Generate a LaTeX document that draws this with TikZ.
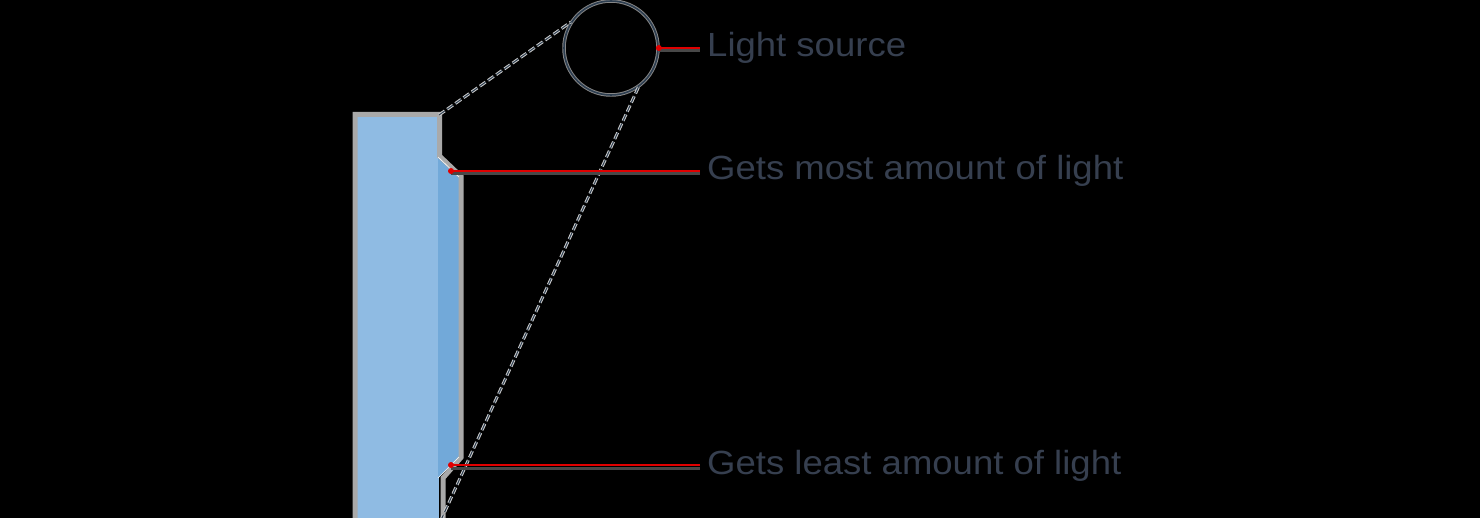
\documentclass[tikz,border=0pt]{standalone}
\usepackage{fontspec}
\newfontfamily\lblfont{Liberation Sans}[FakeStretch=1.09]
\definecolor{bgc}{HTML}{000000}
\definecolor{lblue}{HTML}{8FBBE3}
\definecolor{dblue}{HTML}{72A9D9}
\definecolor{framec}{HTML}{A9A9A9}
\definecolor{navy}{HTML}{2D3E50}
\definecolor{txtc}{HTML}{363F4F}
\definecolor{redc}{HTML}{E00000}
\definecolor{shadc}{HTML}{484848}
\tikzset{
  lbl/.style={inner sep=0pt, anchor=base west, text=txtc, font=\lblfont\fontsize{33.5}{40}\selectfont},
  redline/.style={draw=redc, line width=2pt},
  shadline/.style={draw=shadc, line width=3pt},
  reddot/.style={fill=redc, circle, inner sep=0pt, minimum size=6pt},
  dashhalo/.style={draw=framec!60!white, line width=3pt, dash pattern=on 7pt off 3pt},
  dashcore/.style={draw=navy, line width=1pt, dash pattern=on 7pt off 3pt},
}
\begin{document}
\begin{tikzpicture}[x=1pt,y=-1pt]
\useasboundingbox (0,0) rectangle (1480,518);
\fill[bgc] (0,0) rectangle (1480,518);
\begin{scope}
\clip (0,0) rectangle (1480,518);
% panel
\fill[lblue] (357,117) rectangle (439,530);
\fill[dblue] (438,157) -- (459,177) -- (459,457) -- (438,478) -- cycle;
\draw[framec, line width=5pt, line join=miter] (355,530) -- (355,114.5) -- (439.5,114.5) -- (439.5,156) -- (461,176.5) -- (461,457.5) -- (443,478) -- (443,530);
\draw[white, line width=0.6pt] (438,157) -- (459,177);
\draw[white, line width=0.6pt] (438,478) -- (459,457);
% light source
\node[circle, draw=framec!80!black, line width=3.5pt, minimum size=94pt, inner sep=0pt] (srch) at (611,48) {};
\node[circle, draw=navy, line width=1.6pt, minimum size=94pt, inner sep=0pt] (src) at (611,48) {};
\coordinate (ptop) at (439,115);
\coordinate (pbot) at (441,520);
\draw[dashhalo] (ptop) -- (src.147);
\draw[dashcore] (ptop) -- (src.147);
\draw[dashhalo] (src.-55) -- (pbot);
\draw[dashcore] (src.-55) -- (pbot);
% labels
\node[lbl] (t0) at (707,57) {Light source};
\node[lbl] (t1) at (707,180) {Gets most amount of light};
\node[lbl] (t2) at (707,474) {Gets least amount of light};
% markers
\coordinate (m1) at (451,171);
\coordinate (m2) at (451,465);
\draw[shadline] ([yshift=-3pt]src.east) -- ([xshift=-7pt,yshift=-3pt]t0.west |- src.east);
\draw[redline] (src.east) -- ([xshift=-7pt]t0.west |- src.east);
\draw[shadline] ([yshift=-3pt]m1) -- ([xshift=-7pt,yshift=-3pt]t1.west |- m1);
\draw[redline] (m1) -- ([xshift=-7pt]t1.west |- m1);
\draw[shadline] ([yshift=-3pt]m2) -- ([xshift=-7pt,yshift=-3pt]t2.west |- m2);
\draw[redline] (m2) -- ([xshift=-7pt]t2.west |- m2);
\node[reddot] (d0) at (src.east) {};
\node[reddot] (d1) at (m1) {};
\node[reddot] (d2) at (m2) {};
\end{scope}
\end{tikzpicture}
\end{document}
